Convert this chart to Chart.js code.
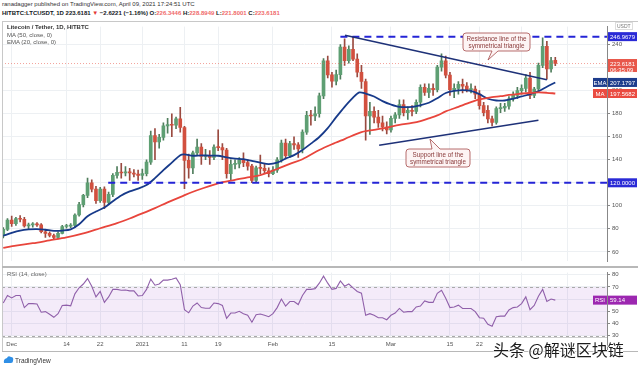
<!DOCTYPE html>
<html><head><meta charset="utf-8">
<script src="https://cdn.jsdelivr.net/npm/chart.js@4.4.1/dist/chart.umd.min.js"></script>
<style>
html,body{margin:0;padding:0;background:#fff;width:640px;height:369px;overflow:hidden;font-family:"Liberation Sans",Arial,sans-serif;}
#wrap{position:relative;width:640px;height:369px;}
.abs{position:absolute;white-space:nowrap;}
canvas{position:absolute;left:0;}
.r{color:#ef6a6a;}
</style></head><body><div id="wrap">
<div class="abs" style="left:2px;top:1px;font-size:6px;color:#333;">ranadagger published on TradingView.com, April 09, 2021 17:24:51 UTC</div>
<div class="abs" style="left:2px;top:10px;font-size:6px;color:#131722;font-weight:bold;">HITBTC:LTCUSDT, 1D 223.6181 <span style="color:#e53935">▼</span> −2.6221 (−1.16%) O:<span class="r">226.3446</span> H:<span class="r">228.8949</span> L:<span class="r">221.8001</span> C:<span class="r">223.6181</span></div>
<canvas id="main" width="640" height="246" style="top:21px;width:640px;height:246px"></canvas>
<canvas id="rsi" width="640" height="86" style="top:267px;width:640px;height:86px"></canvas>
<div class="abs" style="left:2px;top:21px;width:636px;height:0;border-top:1px solid #c8c8c8"></div>
<div class="abs" style="left:2px;top:21px;width:0;height:330px;border-left:1px solid #c8c8c8"></div>
<div class="abs" style="left:2px;top:266px;width:636px;height:0;border-top:2px solid #b8b8b8"></div>
<div class="abs" style="left:2px;top:337px;width:605px;height:0;border-top:1px solid #d0d0d0"></div>
<div class="abs" style="left:2px;top:351px;width:636px;height:0;border-top:1px solid #b8b8b8"></div>
<div class="abs" style="left:607px;top:337px;width:0;height:14px;border-left:1px solid #888"></div>
<div class="abs" style="left:7px;top:24px;font-size:6px;line-height:7.5px;color:#555;">
<div style="color:#333;font-weight:bold">Litecoin / Tether, 1D, HITBTC</div><div>MA (50, close, 0)</div><div>EMA (20, close, 0)</div></div>
<div class="abs" style="left:7px;top:271px;font-size:6px;color:#666;">RSI (14, close)</div>
<div class="abs" style="left:615px;top:22px;font-size:5px;color:#777;border:1px solid #ddd;padding:0 1px;line-height:6px">USDT</div>
<svg class="abs" style="left:0;top:0" width="640" height="369">
<path d="M466,33 H527 Q530,33 530,36 V48 Q530,51 527,51 H498 L488,60 L492,51 H466 Q463,51 463,48 V36 Q463,33 466,33 Z" fill="#fdf4f4" stroke="#a54a4a" stroke-width="0.8"/>
<text x="496.5" y="40.5" font-size="6.3" fill="#8a3a3a" text-anchor="middle" font-family="Liberation Sans, Arial">Resistance line of the</text>
<text x="496.5" y="48" font-size="6.3" fill="#8a3a3a" text-anchor="middle" font-family="Liberation Sans, Arial">symmetrical triangle</text>
<path d="M409,149 H432 L430,139 L440,149 H467 Q470,149 470,152 V164 Q470,167 467,167 H409 Q406,167 406,164 V152 Q406,149 409,149 Z" fill="#fdf4f4" stroke="#a54a4a" stroke-width="0.8"/>
<text x="438" y="156.5" font-size="6.3" fill="#8a3a3a" text-anchor="middle" font-family="Liberation Sans, Arial">Support line of the</text>
<text x="438" y="164" font-size="6.3" fill="#8a3a3a" text-anchor="middle" font-family="Liberation Sans, Arial">symmetrical triangle</text>
<path d="M4,363 Q3,359 7,358 Q8,355 11,357 Q14,357 13,361 Q13,363 11,363 Z" fill="#2f8fe6"/>
<text x="15" y="363" font-size="6.5" fill="#333" font-family="Liberation Sans, Arial">TradingView</text>
</svg>
<div class="abs" style="left:493px;top:337px;font-size:16px;font-family:'Noto Sans CJK SC';color:#1b1b1b;text-shadow:-1px 0 #fff,1px 0 #fff,0 -1px #fff,0 1px #fff;">头条 @解谜区块链</div>
</div>
<script>
// ---- data (day offsets from 2020-12-01) ----
const firstDay = -2; // 2020-11-29
const openP  = [74,79.5,87.5,84.5,89,88.3,82.5,83.5,83.8,83.4,77.5,76,74.2,72.5,76,82,82.4,83,92,101,109,120,114.5,104.5,114.5,103,110,126.5,129,128.5,129.5,128.5,127.5,126.5,128,138,161,155.5,159.5,169.5,170.5,170,175.5,168,139.5,133,146,151,143,143.5,142,151,150.5,148.5,128,136,136.5,140,137.5,134.5,122,133,132.5,130.5,128,131,140,154.5,143.5,154,153,149.5,164,178.5,178,180,195.5,226,213.7,208.2,214,238,226,236,227.5,216,208,178,182,177,172,168.5,166,176,179,188,181,183,182,190,203,198.5,202,201,220.5,226,213.5,201,202,205.5,204,201,201.5,197,187,183,175.5,172.5,184.5,185,186.5,193,196,200,202,211,196,201.5,222,238.5,219,226.3446];
const highP  = [81,89,91,90,91.5,90,85,85.5,85.5,84.5,79.5,77.5,75.5,77.5,83,84,84.5,93,103,110,124,122.5,117,116,116.5,112,128,134,137,134,132.5,131.5,131,132,140,165,167,162,172,176,180,177,185.5,169,145,147.5,158,154,149,148,153,166,154,150,140,140,142,146,140,136,134.5,144,136,133,134,142,157,158,156,160,155,166,182,183,186,198,228,230,216,218,240,245,239,246.9679,232,222,210,190,186,183,178,173,178,181,192,192,186,187,192,205,206,206,206,222,232,230,216,206,208,210,207,206,204,200,190,187,178,186,189,189,195,199,203,205,214,216,203,224,246,243,229,228.8949];
const lowP   = [72,78.5,82,83,86,81.5,80,81.5,82,76.5,72.5,73,70.5,71.5,75.5,80.5,81,81.5,91,99,107,112,102,103,97.5,101,108,124,124,126,122,125,122,123,126,136,140,150,157,163,160,167,164,115,124,128,144,136,140,136,140,148,140,124,122,132,133,134,131,120,120,128,128,125,127,129,138,141,142,149,142,146,162,170,174,177,193,211,203,205,210,222,224,226,212,202,157,162,172,168,165,162.5,164,172,176,178,175,178,180,186,196,194,196,199,217,211,196,194,197,198,199,198,193,184,178,172,169.5,171,181,182,184,191,193,197,199,193,194,199,220,210,216,221.8001];
const closeP = [79.5,87.5,84.5,89,88.3,82.5,83.5,83.8,83.4,77.5,76,74.2,72.5,76,82,82.4,83,92,101,109,120,114.5,104.5,114.5,103,110,126.5,129,128.5,129.5,128.5,127.5,126.5,128,138,161,155.5,159.5,169.5,170.5,170,175.5,168,139.5,133,146,151,143,143.5,142,151,150.5,148.5,128,136,136.5,140,137.5,134.5,122,133,132.5,130.5,128,131,140,154.5,143.5,154,153,149.5,164,178.5,178,180,195.5,226,213.7,208.2,214,238,226,236,227.5,216,208,178,182,177,172,168.5,166,176,179,188,181,183,182,190,203,198.5,202,201,220.5,226,213.5,201,202,205.5,204,201,201.5,197,187,181,175.5,172.5,184.5,185,186.5,193,196,200,202,211,196,201.5,222,238.5,219,226.24,223.6181];
const rsiVals = [56.8,63,61,63,63,53,56.3,56.3,56,49.2,49.7,47.5,45,48,54.8,55,54.5,64.3,69.3,72.4,76.9,70.6,61.8,66.3,57.3,61.8,68,68,67.3,67.5,66.8,66.8,62.6,63,68,76.4,71.4,72.4,75.6,75.6,76.4,77.4,71.9,51.3,48.7,54.3,56.8,53,52.5,52.5,56.8,56.3,54.8,44.2,48.5,48.5,50,48,46.7,41,47.2,47.7,46.7,45.5,48,53,60,54.3,58,58,55.5,63,68,68,68.6,73.1,78.9,73.1,68,68.8,74.9,70.6,72.4,69.3,66.3,64.8,46.7,48,46.7,44.7,44.7,43,46.7,48.5,52.3,49.2,49.7,49.7,53.5,54.3,58.5,57.3,57.3,64.8,67.3,60.6,53,53.5,55,52.3,52.3,52.3,49.7,44.7,44.2,39.2,37.7,45.5,46,46,51,53,53.5,56.3,61.8,51.3,54.8,62.3,68,58,60,59.14];
// MA(50) and EMA(20) readings
const maDays  = [-2,1,5,9,13,17,21,25,28,31,34,37,40.7,44,49,53,56,59,63,66,69,73,76,79,83,86,89,92,95,97,99,101,103,106,109,111,114,116,118,120,123,125,127,129];
const maVals  = [63.5,65.5,67.5,70,72.5,76,80.5,85,89,93.4,98,103,108.7,113.5,119.5,122.5,124.8,126.6,132,136.5,140.5,148.5,153.5,158,164,166,168,170.3,172,173.6,176,178.5,182,186,190,192.4,194.5,195.2,196.3,197.1,198,198.5,198.2,197.5682];
const emaDays = [-2,0,2,4,6,8,10,12,14,16,18,20,22,24,26,28,30,32,34,36,38,40,41,43,45,47,49,51,53,55,57,59,61,63,65,67,69,71,73,75,77,79,81,82.5,84,86,88,90,92,95,97,99,101,103,105,107,109,111,113,115,117,119,121,123,125,127,129];
const emaVals = [74,76.5,78.5,79.5,79.8,79.2,78.3,78.5,79.5,84,91,95,98.5,104,109,112.5,115,118,124,131,137.5,144,144.6,143.5,143.8,143.6,143.5,142,141,140.5,139,137.5,136.3,137.5,141,144,148.5,154,159.8,167.5,177,186,194,198.5,197.5,195,191,188,186,186,187.4,189.5,193.5,198,199.8,200.5,199.8,197,193,191.5,191.5,193,195,197,199.5,203.5,207.1797];
// horizontal levels and trendlines (day, price)
const levelPrices = [246.9679, 120];
const levelStartDays = [78, 22.9];
const resistanceLine = [[79.1, 248.2], [127, 209.5]];
const supportLine = [[87.2, 152.6], [125, 174.4]];
const lastPrice = 223.6181, lastRsi = 59.14;
// time axis
const tickDays = [0,13,21,31,41,49,62,76,90,104,111,121,132];
const tickLabels = ['Dec','14','22','2021','11','19','Feb','15','Mar','15','22','',''];

const X_MIN = -2.3, X_MAX = 141.27;
const days = openP.map((_, i) => firstDay + i);
const UP = '#5e9f73', DOWN = '#d2503f';
const FONT = 'Liberation Sans';

const xCommon = {
  type: 'linear', min: X_MIN, max: X_MAX, offset: false,
  afterBuildTicks: s => { s.ticks = tickDays.map(v => ({ value: v })); },
  grid: { color: '#edf0f3', drawTicks: false, offset: false },
  border: { display: false }
};

function tag(ctx, y, text, bg, name, sub) {
  ctx.save();
  ctx.font = '6px ' + FONT;
  ctx.textBaseline = 'middle';
  const h = sub ? 13 : 9;
  const top = y - 4.5;
  ctx.fillStyle = bg;
  ctx.fillRect(608, top, 29, h);
  if (name) {
    ctx.fillRect(593, top, 14, 9);
    ctx.fillStyle = '#fff';
    ctx.textAlign = 'center';
    ctx.fillText(name, 600, y + 0.5);
  }
  ctx.fillStyle = '#fff';
  ctx.textAlign = 'left';
  ctx.fillText(text, 610, y + 0.5);
  if (sub) ctx.fillText(sub, 610, y + 7);
  ctx.restore();
}

const mainTags = {
  id: 'mainTags',
  afterDraw(chart) {
    const { ctx, scales: { y } } = chart;
    tag(ctx, y.getPixelForValue(levelPrices[0]), levelPrices[0].toFixed(4), '#2a2ad6');
    tag(ctx, y.getPixelForValue(levelPrices[1]), levelPrices[1].toFixed(4), '#2a2ad6');
    tag(ctx, y.getPixelForValue(lastPrice), lastPrice.toFixed(4), '#e8574a', null, '06:35:09');
    tag(ctx, y.getPixelForValue(emaVals[emaVals.length - 1]), emaVals[emaVals.length - 1].toFixed(4), '#1d3c8c', 'EMA');
    tag(ctx, y.getPixelForValue(maVals[maVals.length - 1]), maVals[maVals.length - 1].toFixed(4), '#ea4b41', 'MA');
  }
};

const lineDs = (pts, color, width, dash, order) => ({
  type: 'line', data: pts.map(p => ({ x: p[0], y: p[1] })), borderColor: color, borderWidth: width,
  borderDash: dash || [], pointRadius: 0, fill: false, order: order, tension: 0
});

new Chart(document.getElementById('main'), {
  type: 'bar',
  data: {
    datasets: [
      { label: 'wick', data: days.map((d, i) => ({ x: d, y: [lowP[i], highP[i]] })), backgroundColor: days.map((d, i) => closeP[i] >= openP[i] ? '#4f7d5c' : '#9a4a40'), barThickness: 1, grouped: false, order: 6 },
      { label: 'body', data: days.map((d, i) => ({ x: d, y: [openP[i], closeP[i]] })), backgroundColor: days.map((d, i) => closeP[i] >= openP[i] ? UP : DOWN), borderColor: days.map((d, i) => closeP[i] >= openP[i] ? '#3f7a52' : '#a8392c'), borderWidth: 0, barThickness: 3, minBarLength: 1, grouped: false, order: 5 },
      lineDs([[X_MIN, lastPrice], [X_MAX, lastPrice]], 'rgba(232,87,74,0.55)', 1, [1, 2], 4),
      Object.assign(lineDs(maDays.map((d, i) => [d, maVals[i]]), '#e8453c', 1.8, null, 3), { tension: 0.3 }),
      Object.assign(lineDs(emaDays.map((d, i) => [d, emaVals[i]]), '#173a8a', 1.8, null, 3), { tension: 0.3 }),
      lineDs([[levelStartDays[0], levelPrices[0]], [X_MAX, levelPrices[0]]], '#2424d6', 2, [7, 5], 2),
      lineDs([[levelStartDays[1], levelPrices[1]], [X_MAX, levelPrices[1]]], '#2424d6', 2, [7, 5], 2),
      lineDs(resistanceLine, '#1e3178', 1.6, null, 1),
      lineDs(supportLine, '#1e3178', 1.6, null, 1)
    ]
  },
  options: {
    responsive: false, animation: false, devicePixelRatio: 1,
    layout: { padding: { left: 2, right: 0, top: 0, bottom: 0 } },
    plugins: { legend: { display: false }, tooltip: { enabled: false } },
    scales: {
      x: Object.assign({}, xCommon, { ticks: { display: false }, afterFit: s => { s.height = 0; } }),
      y: {
        position: 'right', min: 51.71, max: 255.69,
        afterFit: s => { s.width = 33; },
        ticks: { stepSize: 20, includeBounds: false, font: { family: FONT, size: 6 }, color: '#555', padding: 2 },
        grid: { color: '#edf0f3', tickLength: 3, tickColor: '#888' },
        border: { display: true, color: '#888' }
      }
    }
  },
  plugins: [mainTags]
});

const rsiDeco = {
  id: 'rsiDeco',
  beforeDatasetsDraw(chart) {
    const { ctx, chartArea: a, scales: { y } } = chart;
    const y70 = y.getPixelForValue(70), y30 = y.getPixelForValue(30);
    ctx.save();
    ctx.fillStyle = 'rgba(150,60,200,0.10)';
    ctx.fillRect(a.left, y70, a.right - a.left, y30 - y70);
    ctx.strokeStyle = '#a9a9a9'; ctx.lineWidth = 1; ctx.setLineDash([3, 3]);
    [y70, y30].forEach(v => { ctx.beginPath(); ctx.moveTo(a.left, Math.round(v) + 0.5); ctx.lineTo(a.right, Math.round(v) + 0.5); ctx.stroke(); });
    ctx.restore();
  },
  afterDraw(chart) {
    const { ctx, scales: { y } } = chart;
    tag(ctx, y.getPixelForValue(lastRsi), lastRsi.toFixed(2), '#9c27b0', 'RSI');
  }
};

new Chart(document.getElementById('rsi'), {
  type: 'line',
  data: {
    datasets: [{ data: days.map((d, i) => ({ x: d, y: rsiVals[i] })), borderColor: '#9060aa', borderWidth: 1.1, pointRadius: 0, fill: false, tension: 0 }]
  },
  options: {
    responsive: false, animation: false, devicePixelRatio: 1,
    layout: { padding: { left: 2, right: 0, top: 0, bottom: 0 } },
    plugins: { legend: { display: false }, tooltip: { enabled: false } },
    scales: {
      x: Object.assign({}, xCommon, {
        afterFit: s => { s.height = 16; },
        ticks: { autoSkip: false, maxRotation: 0, padding: 4, font: { family: FONT, size: 6 }, color: '#555',
          callback: (v, i) => tickLabels[i] }
      }),
      y: {
        position: 'right', min: 28.8, max: 81.8,
        afterFit: s => { s.width = 33; },
        ticks: { stepSize: 10, includeBounds: false, font: { family: FONT, size: 6 }, color: '#555', padding: 2 },
        grid: { color: '#edf0f3', tickLength: 3, tickColor: '#888' },
        border: { display: true, color: '#888' }
      }
    }
  },
  plugins: [rsiDeco]
});
</script>
</body></html>
